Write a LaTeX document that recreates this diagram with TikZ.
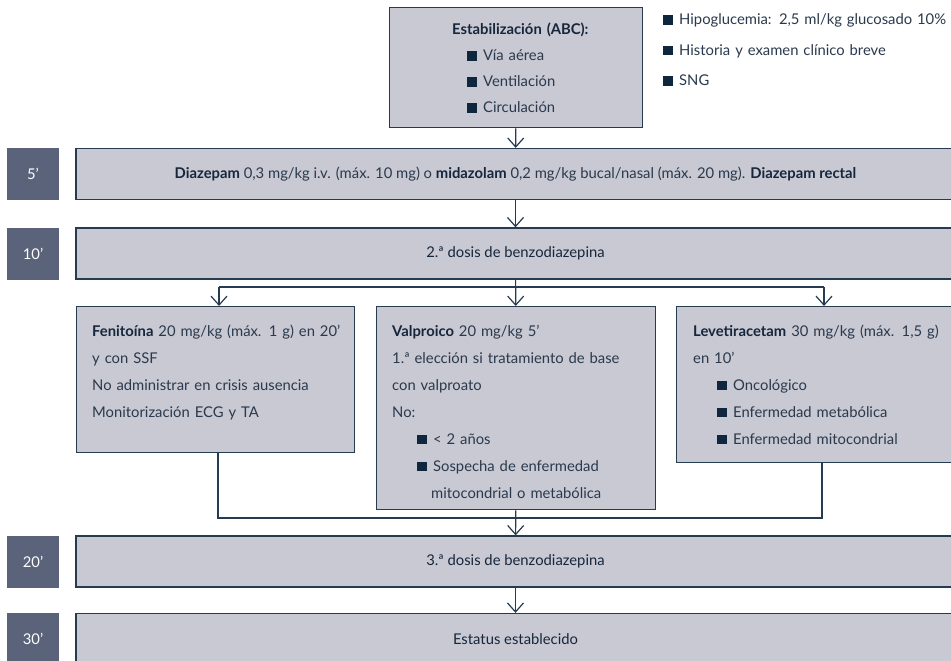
\documentclass[tikz,border=0pt]{standalone}
\usepackage{fontspec}
\setmainfont{Lato}
\usetikzlibrary{arrows.meta,positioning}

\definecolor{barfill}{RGB}{200,201,210}
\definecolor{edge}{RGB}{38,58,80}
\definecolor{timefill}{RGB}{90,99,121}
\definecolor{ink}{RGB}{42,57,77}
\definecolor{inkdark}{RGB}{22,38,60}
\definecolor{bulletc}{RGB}{14,38,62}

% square bullet and dark lead-in words
\newcommand{\bul}{{\color{bulletc}\rule{9.5pt}{9.5pt}}\hspace{6.5pt}}
\newcommand{\hd}[1]{\textbf{\color{inkdark}#1}}

\tikzset{
  bar/.style={draw=edge, fill=barfill, line width=1.3pt, minimum width=879pt,
    minimum height=51pt, text=ink, font=\fontsize{14.8}{27}\selectfont},
  timebox/.style={fill=timefill, minimum width=52pt, minimum height=52pt,
    text=white, font=\fontsize{14.8}{27}\selectfont},
  drugbox/.style={draw=edge, fill=barfill, line width=1.3pt, anchor=north west},
  boxtext/.style={anchor=base west, inner sep=0pt, align=left, text=ink,
    font=\fontsize{14.8}{27}\selectfont},
  link/.style={draw=edge, line width=1.2pt},
  flow/.style={link, -{Straight Barb[length=9pt,width=16pt]}},
}

\begin{document}
\begin{tikzpicture}[x=1pt,y=-1pt]
\useasboundingbox (0,0) rectangle (951,661);

% Stabilisation box and side notes
\node[drugbox, minimum width=253pt, minimum height=120pt] (abc) at (389,7) {};
\node[boxtext, text width=170pt, font=\fontsize{14.8}{26}\selectfont] (abctext) at (452,35)
  {\hd{Estabilización (ABC):}\\
   \hspace*{15pt}\bul Vía aérea\\
   \hspace*{15pt}\bul Ventilación\\
   \hspace*{15pt}\bul Circulación};
\node[boxtext, text width=285pt, font=\fontsize{14.8}{30.5}\selectfont] (notes) at (663,25)
  {\bul Hipoglucemia: 2,5 ml/kg glucosado 10\%\\
   \bul Historia y examen clínico breve\\
   \bul SNG};

% Time steps
\node[timebox] (t5) at (33,174) {5’};
\node[bar] (b5) at (515.5,174) {\hd{Diazepam} 0,3 mg/kg i.v. (máx. 10 mg) o \hd{midazolam} 0,2 mg/kg bucal/nasal (máx. 20 mg). \hd{Diazepam rectal}};
\node[timebox] (t10) at (33,253.5) {10’};
\node[bar] (b10) at (515.5,253.5) {\color{inkdark}2.ª dosis de benzodiazepina};
\node[timebox] (t20) at (33,561.5) {20’};
\node[bar] (b20) at (515.5,561.5) {\color{inkdark}3.ª dosis de benzodiazepina};
\node[timebox] (t30) at (33,639) {30’};
\node[bar] (b30) at (515.5,639) {\color{inkdark}Estatus establecido};

% Second line drugs
\node[drugbox, minimum width=278pt, minimum height=146pt] (fen) at (76,306) {};
\node[boxtext, text width=262pt] (fentext) at (92,336)
  {\hd{Fenitoína} 20 mg/kg (máx. 1 g) en 20'\\
   y con SSF\\
   No administrar en crisis ausencia\\
   Monitorización ECG y TA};
\node[drugbox, minimum width=279pt, minimum height=203pt] (val) at (376,306) {};
\node[boxtext, text width=262pt] (valtext) at (392,336)
  {\hd{Valproico} 20 mg/kg 5'\\
   1.ª elección si tratamiento de base\\
   con valproato\\
   No:\\
   \hspace*{25pt}\bul < 2 años\\
   \hspace*{25pt}\bul Sospecha de enfermedad\\
   \hspace*{39pt}mitocondrial o metabólica};
\node[drugbox, minimum width=279pt, minimum height=156pt] (lev) at (676,306) {};
\node[boxtext, text width=258pt] (levtext) at (693,336)
  {\hd{Levetiracetam} 30 mg/kg (máx. 1,5 g)\\
   en 10'\\
   \hspace*{24pt}\bul Oncológico\\
   \hspace*{24pt}\bul Enfermedad metabólica\\
   \hspace*{24pt}\bul Enfermedad mitocondrial};

% Connectors
\coordinate (splitfen) at (219,287);
\coordinate (splitlev) at (824,287);
\coordinate (joinfen) at (218,518);
\coordinate (joinlev) at (822,518);

\draw[flow] (abc) -- (b5);
\draw[flow] (b5) -- (b10);
\draw[flow] (b10) -- (val);
\draw[link] (splitfen) -- (splitlev);
\draw[flow] (splitfen) -- (splitfen |- fen.north);
\draw[flow] (splitlev) -- (splitlev |- lev.north);
\draw[link] (joinfen |- fen.south) -- (joinfen) -- (joinlev) -- (joinlev |- lev.south);
\draw[flow] (val) -- (b20);
\draw[flow] (b20) -- (b30);

\end{tikzpicture}
\end{document}
